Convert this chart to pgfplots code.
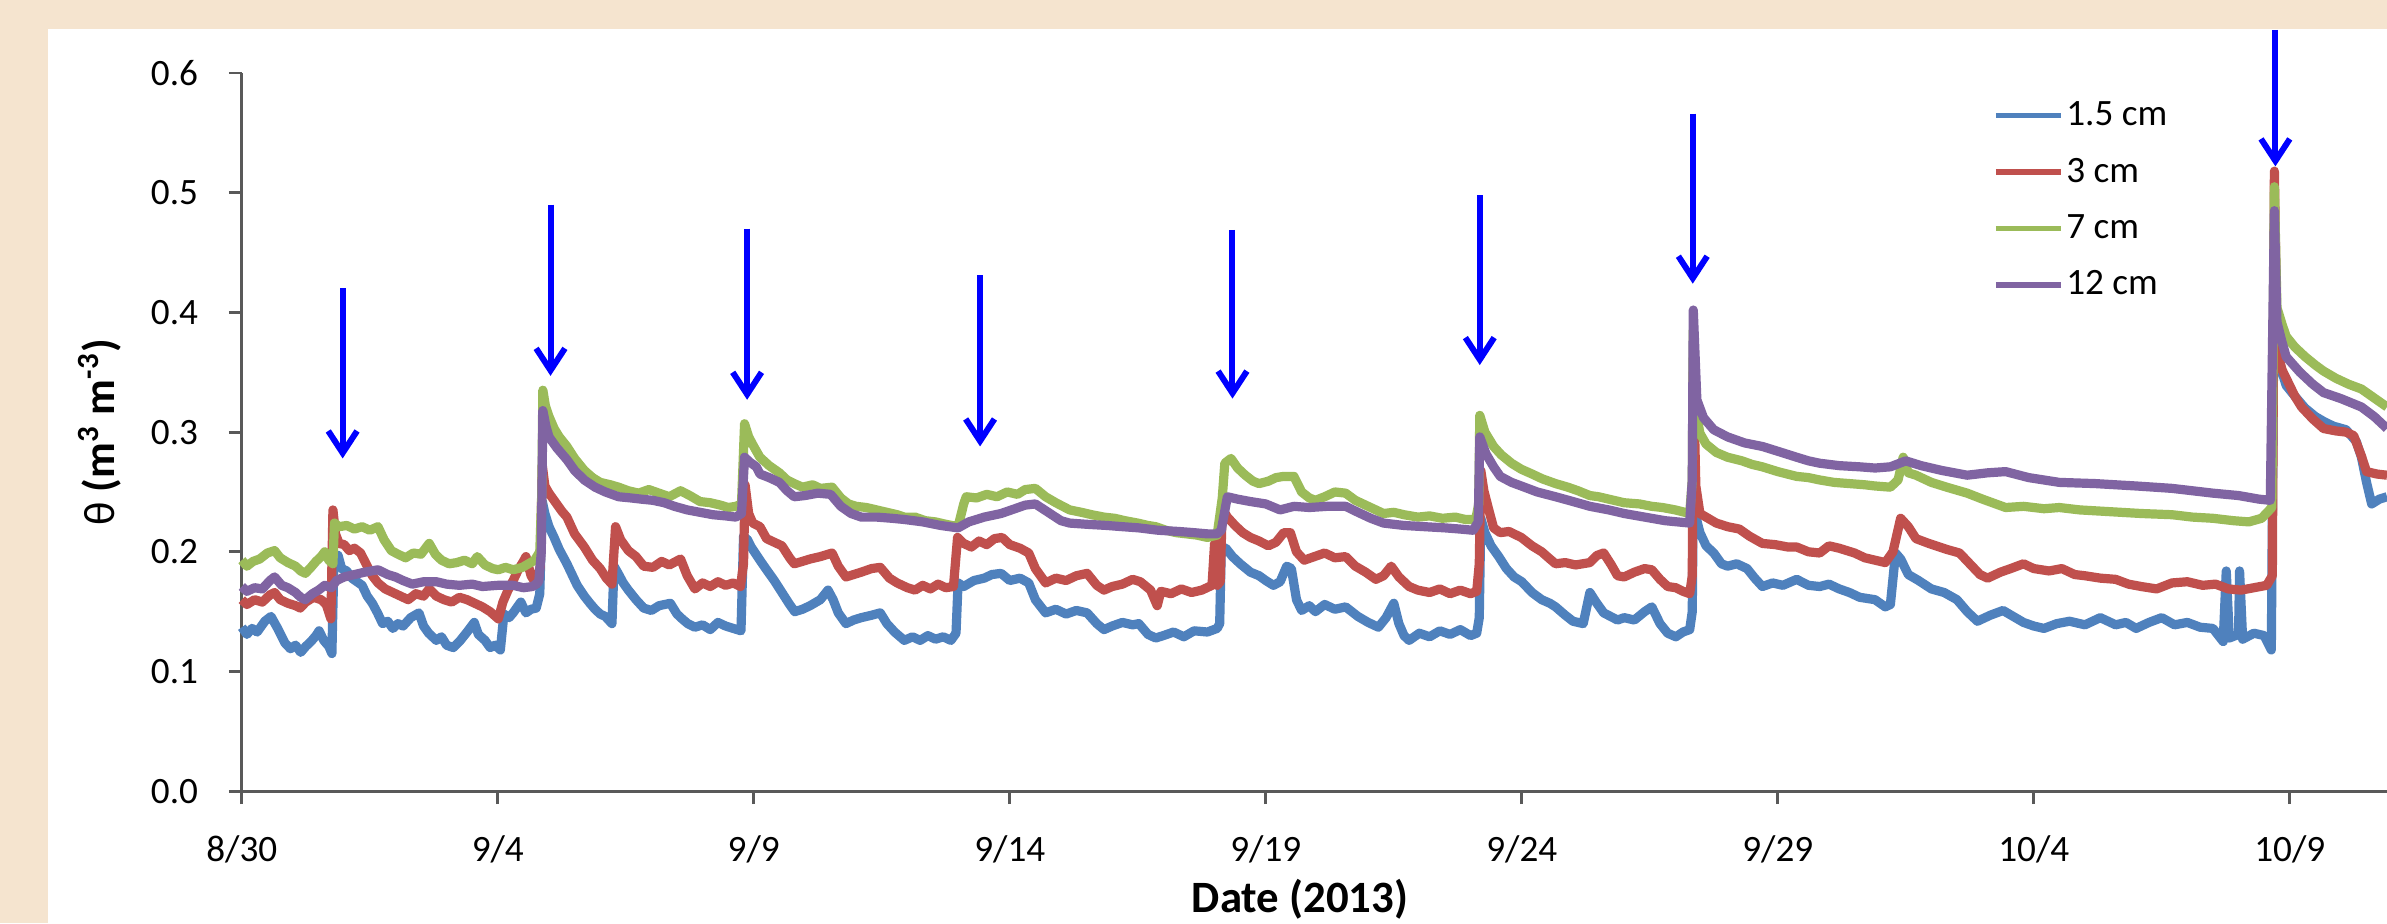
\documentclass[border=0pt]{standalone}
\usepackage{pgfplots}
\pgfplotsset{compat=1.18}
\usepackage{pgfplotstable}
\usepackage{fontspec}
\setmainfont{Carlito}
\usetikzlibrary{arrows.meta}
\definecolor{bg}{RGB}{245,228,207}
\definecolor{sA}{HTML}{4F81BD}
\definecolor{sB}{HTML}{C0504D}
\definecolor{sC}{HTML}{9BBB59}
\definecolor{sD}{HTML}{8064A2}

\pgfplotstableread{
d v
0.00 0.137
0.10 0.131
0.20 0.136
0.30 0.133
0.45 0.142
0.57 0.146
0.70 0.136
0.84 0.124
0.95 0.119
1.05 0.122
1.15 0.116
1.25 0.121
1.35 0.125
1.45 0.130
1.51 0.134
1.60 0.126
1.70 0.121
1.76 0.115
1.80 0.194
1.88 0.197
1.95 0.186
2.05 0.184
2.15 0.178
2.25 0.175
2.35 0.172
2.45 0.163
2.55 0.157
2.65 0.149
2.75 0.140
2.85 0.142
2.95 0.136
3.05 0.140
3.15 0.138
3.30 0.145
3.46 0.149
3.55 0.138
3.65 0.132
3.80 0.126
3.90 0.129
4.00 0.122
4.13 0.120
4.25 0.125
4.40 0.133
4.54 0.141
4.62 0.131
4.75 0.126
4.85 0.120
4.95 0.122
5.05 0.118
5.12 0.148
5.22 0.145
5.30 0.149
5.45 0.158
5.55 0.149
5.65 0.152
5.75 0.153
5.82 0.165
5.87 0.242
5.92 0.232
6.00 0.221
6.10 0.212
6.20 0.202
6.35 0.190
6.45 0.181
6.55 0.172
6.69 0.163
6.80 0.157
6.90 0.152
7.00 0.148
7.10 0.146
7.23 0.140
7.27 0.188
7.35 0.182
7.45 0.174
7.55 0.168
7.70 0.160
7.85 0.153
8.00 0.151
8.15 0.155
8.37 0.157
8.50 0.148
8.60 0.144
8.71 0.140
8.85 0.137
9.00 0.139
9.15 0.135
9.30 0.141
9.45 0.138
9.60 0.136
9.75 0.134
9.80 0.213
9.88 0.210
9.95 0.204
10.12 0.193
10.25 0.185
10.40 0.176
10.55 0.166
10.70 0.156
10.80 0.150
10.95 0.152
11.10 0.155
11.30 0.160
11.45 0.168
11.55 0.160
11.65 0.149
11.80 0.140
11.95 0.143
12.10 0.145
12.30 0.147
12.47 0.149
12.60 0.140
12.75 0.133
12.94 0.126
13.10 0.129
13.25 0.126
13.40 0.130
13.55 0.127
13.70 0.129
13.85 0.126
13.95 0.132
13.99 0.174
14.10 0.171
14.30 0.176
14.50 0.178
14.65 0.181
14.83 0.182
15.00 0.176
15.20 0.178
15.37 0.174
15.50 0.160
15.70 0.149
15.90 0.152
16.10 0.148
16.30 0.151
16.51 0.149
16.70 0.140
16.84 0.135
17.00 0.138
17.20 0.141
17.40 0.139
17.52 0.140
17.70 0.131
17.85 0.128
18.00 0.130
18.20 0.133
18.40 0.129
18.60 0.134
18.86 0.133
19.05 0.136
19.10 0.140
19.13 0.200
19.22 0.203
19.35 0.196
19.50 0.190
19.70 0.183
19.87 0.180
20.00 0.176
20.15 0.172
20.28 0.175
20.41 0.188
20.50 0.186
20.60 0.160
20.70 0.151
20.85 0.155
20.97 0.150
21.15 0.156
21.35 0.152
21.56 0.154
21.80 0.146
22.00 0.141
22.20 0.137
22.35 0.145
22.50 0.157
22.60 0.140
22.70 0.130
22.80 0.126
23.00 0.132
23.20 0.129
23.40 0.134
23.60 0.131
23.80 0.135
24.00 0.130
24.12 0.132
24.17 0.145
24.20 0.228
24.28 0.216
24.40 0.205
24.55 0.196
24.70 0.186
24.85 0.179
25.00 0.175
25.20 0.166
25.39 0.160
25.55 0.157
25.66 0.154
25.85 0.147
26.00 0.142
26.20 0.140
26.33 0.166
26.45 0.158
26.60 0.149
26.87 0.143
27.00 0.145
27.20 0.143
27.40 0.150
27.54 0.154
27.70 0.140
27.85 0.132
28.01 0.129
28.15 0.133
28.28 0.135
28.33 0.150
28.35 0.250
28.42 0.226
28.48 0.216
28.60 0.205
28.75 0.199
28.90 0.190
29.02 0.188
29.20 0.190
29.40 0.186
29.55 0.178
29.70 0.171
29.90 0.174
30.10 0.172
30.37 0.177
30.60 0.172
30.82 0.171
31.00 0.173
31.20 0.169
31.40 0.166
31.60 0.162
31.90 0.160
32.10 0.154
32.20 0.156
32.30 0.199
32.40 0.194
32.55 0.181
32.75 0.176
33.00 0.169
33.25 0.166
33.50 0.160
33.70 0.150
33.90 0.142
34.15 0.147
34.40 0.151
34.60 0.146
34.80 0.141
35.00 0.138
35.20 0.136
35.45 0.140
35.70 0.142
36.00 0.139
36.30 0.145
36.60 0.139
36.80 0.141
37.00 0.136
37.25 0.141
37.50 0.145
37.75 0.139
38.00 0.141
38.25 0.137
38.50 0.136
38.70 0.125
38.76 0.184
38.82 0.128
39.00 0.131
39.02 0.184
39.08 0.127
39.30 0.132
39.50 0.130
39.64 0.118
39.70 0.450
39.75 0.369
39.85 0.350
39.93 0.339
40.10 0.330
40.30 0.320
40.50 0.313
40.66 0.309
40.85 0.305
41.10 0.302
41.30 0.292
41.40 0.279
41.50 0.258
41.60 0.240
41.75 0.244
41.90 0.246
}\seriesA

\pgfplotstableread{
d v
0.00 0.160
0.10 0.156
0.25 0.160
0.40 0.158
0.55 0.164
0.64 0.166
0.75 0.160
0.90 0.157
1.05 0.155
1.14 0.153
1.25 0.158
1.40 0.162
1.55 0.160
1.65 0.156
1.74 0.144
1.78 0.235
1.83 0.215
1.90 0.207
2.00 0.206
2.10 0.201
2.20 0.203
2.32 0.199
2.45 0.188
2.55 0.180
2.66 0.174
2.80 0.169
2.95 0.166
3.10 0.163
3.25 0.160
3.40 0.165
3.55 0.163
3.66 0.169
3.80 0.163
3.95 0.160
4.10 0.158
4.25 0.162
4.40 0.160
4.55 0.157
4.70 0.154
4.85 0.150
5.01 0.144
5.10 0.158
5.20 0.168
5.30 0.176
5.40 0.185
5.50 0.192
5.55 0.196
5.65 0.180
5.75 0.173
5.83 0.188
5.87 0.272
5.92 0.255
6.00 0.249
6.15 0.240
6.25 0.234
6.35 0.229
6.50 0.215
6.69 0.204
6.85 0.193
7.00 0.186
7.12 0.178
7.23 0.173
7.30 0.221
7.40 0.210
7.55 0.201
7.70 0.196
7.85 0.188
8.03 0.187
8.20 0.192
8.35 0.189
8.57 0.194
8.70 0.180
8.85 0.169
9.00 0.174
9.15 0.171
9.30 0.175
9.45 0.172
9.60 0.174
9.74 0.171
9.80 0.190
9.83 0.256
9.90 0.232
9.98 0.224
10.12 0.221
10.25 0.211
10.40 0.208
10.55 0.205
10.70 0.195
10.79 0.190
10.95 0.192
11.10 0.194
11.30 0.196
11.53 0.199
11.65 0.188
11.80 0.179
11.95 0.181
12.10 0.183
12.30 0.186
12.47 0.187
12.65 0.178
12.80 0.174
13.00 0.170
13.15 0.168
13.30 0.172
13.45 0.169
13.60 0.173
13.75 0.170
13.90 0.171
13.98 0.212
14.10 0.207
14.25 0.204
14.40 0.209
14.55 0.206
14.70 0.211
14.85 0.212
15.00 0.206
15.20 0.203
15.37 0.199
15.50 0.186
15.70 0.174
15.90 0.178
16.10 0.176
16.30 0.180
16.51 0.182
16.70 0.172
16.84 0.168
17.00 0.171
17.20 0.173
17.40 0.177
17.55 0.175
17.75 0.168
17.88 0.155
17.95 0.167
18.15 0.165
18.35 0.169
18.55 0.166
18.75 0.168
18.95 0.172
19.00 0.207
19.05 0.172
19.11 0.175
19.15 0.236
19.25 0.229
19.40 0.222
19.55 0.216
19.70 0.212
19.87 0.209
20.05 0.205
20.20 0.208
20.35 0.216
20.48 0.216
20.60 0.200
20.75 0.193
20.95 0.196
21.15 0.199
21.35 0.195
21.56 0.196
21.75 0.188
21.95 0.183
22.15 0.177
22.30 0.180
22.45 0.188
22.60 0.179
22.80 0.171
22.97 0.168
23.20 0.166
23.40 0.169
23.60 0.165
23.80 0.168
24.00 0.165
24.12 0.167
24.17 0.190
24.20 0.268
24.26 0.251
24.35 0.236
24.45 0.220
24.58 0.216
24.75 0.217
24.99 0.212
25.20 0.205
25.39 0.200
25.55 0.194
25.66 0.190
25.85 0.191
26.05 0.189
26.33 0.191
26.47 0.197
26.60 0.199
26.75 0.189
26.87 0.180
27.00 0.179
27.20 0.183
27.40 0.186
27.54 0.185
27.70 0.177
27.85 0.171
28.01 0.170
28.15 0.167
28.28 0.165
28.33 0.180
28.35 0.350
28.40 0.255
28.48 0.232
28.60 0.229
28.80 0.224
29.02 0.221
29.25 0.219
29.45 0.213
29.70 0.207
29.95 0.206
30.20 0.204
30.37 0.204
30.60 0.200
30.82 0.199
31.00 0.205
31.20 0.203
31.50 0.199
31.70 0.195
31.90 0.193
32.10 0.191
32.25 0.200
32.40 0.228
32.55 0.221
32.70 0.211
32.95 0.207
33.30 0.202
33.55 0.199
33.75 0.190
33.95 0.181
34.10 0.178
34.35 0.183
34.55 0.186
34.80 0.190
35.00 0.186
35.30 0.184
35.55 0.186
35.80 0.181
36.00 0.180
36.30 0.178
36.60 0.177
36.85 0.173
37.10 0.171
37.40 0.169
37.70 0.174
38.00 0.175
38.30 0.172
38.55 0.173
38.80 0.169
39.05 0.168
39.30 0.170
39.55 0.172
39.66 0.180
39.70 0.518
39.75 0.368
39.85 0.352
39.93 0.345
40.10 0.330
40.23 0.321
40.45 0.311
40.66 0.303
40.90 0.301
41.10 0.300
41.25 0.297
41.40 0.280
41.50 0.267
41.70 0.265
41.90 0.264
}\seriesB

\pgfplotstableread{
d v
0.00 0.193
0.10 0.188
0.22 0.192
0.35 0.194
0.50 0.199
0.64 0.201
0.75 0.195
0.90 0.191
1.05 0.188
1.15 0.184
1.24 0.182
1.35 0.187
1.45 0.192
1.55 0.196
1.62 0.200
1.70 0.193
1.78 0.190
1.81 0.224
1.90 0.221
2.05 0.222
2.20 0.219
2.35 0.221
2.50 0.218
2.66 0.221
2.78 0.210
2.92 0.201
3.05 0.198
3.20 0.195
3.35 0.199
3.50 0.198
3.66 0.207
3.78 0.198
3.90 0.193
4.05 0.190
4.20 0.191
4.35 0.193
4.50 0.190
4.60 0.196
4.75 0.189
4.90 0.186
5.01 0.185
5.15 0.187
5.30 0.185
5.48 0.187
5.60 0.190
5.72 0.193
5.82 0.200
5.86 0.250
5.88 0.335
5.93 0.322
6.00 0.313
6.10 0.303
6.20 0.296
6.35 0.288
6.50 0.278
6.69 0.268
6.85 0.262
7.00 0.258
7.20 0.256
7.36 0.254
7.55 0.251
7.75 0.249
7.95 0.252
8.15 0.249
8.35 0.246
8.57 0.251
8.75 0.247
8.95 0.242
9.15 0.241
9.35 0.239
9.50 0.237
9.65 0.238
9.76 0.240
9.82 0.307
9.90 0.296
10.00 0.288
10.12 0.279
10.30 0.272
10.50 0.266
10.65 0.260
10.79 0.257
10.95 0.254
11.15 0.256
11.30 0.253
11.53 0.254
11.70 0.245
11.85 0.240
12.00 0.238
12.20 0.237
12.40 0.235
12.60 0.233
12.80 0.231
12.94 0.229
13.15 0.229
13.35 0.226
13.55 0.225
13.75 0.223
13.99 0.221
14.10 0.240
14.15 0.246
14.35 0.245
14.55 0.248
14.75 0.246
14.95 0.250
15.15 0.248
15.30 0.252
15.50 0.253
15.70 0.246
15.90 0.241
16.17 0.235
16.40 0.233
16.60 0.231
16.84 0.229
17.05 0.228
17.25 0.226
17.50 0.224
17.70 0.222
17.85 0.221
18.05 0.218
18.25 0.216
18.45 0.215
18.65 0.214
18.86 0.212
19.05 0.214
19.15 0.245
19.20 0.274
19.32 0.278
19.45 0.270
19.60 0.264
19.75 0.259
19.87 0.257
20.05 0.259
20.20 0.262
20.35 0.263
20.55 0.263
20.70 0.250
20.85 0.245
20.97 0.243
21.15 0.246
21.35 0.250
21.56 0.249
21.75 0.243
21.95 0.239
22.15 0.235
22.30 0.232
22.50 0.233
22.70 0.231
22.97 0.229
23.20 0.230
23.45 0.228
23.70 0.229
23.90 0.227
24.10 0.227
24.16 0.240
24.18 0.314
24.28 0.300
24.45 0.288
24.60 0.281
24.80 0.274
24.99 0.269
25.20 0.265
25.40 0.261
25.66 0.257
25.90 0.254
26.10 0.251
26.33 0.247
26.50 0.246
26.70 0.244
27.00 0.241
27.30 0.240
27.54 0.238
27.75 0.237
28.00 0.235
28.28 0.232
28.33 0.260
28.35 0.385
28.40 0.318
28.48 0.299
28.60 0.290
28.80 0.283
29.02 0.279
29.30 0.276
29.50 0.273
29.70 0.271
30.00 0.267
30.37 0.263
30.60 0.262
30.82 0.260
31.10 0.258
31.40 0.257
31.70 0.256
31.90 0.255
32.20 0.254
32.35 0.260
32.45 0.279
32.55 0.266
32.70 0.264
33.00 0.258
33.30 0.254
33.70 0.249
34.00 0.244
34.45 0.237
34.80 0.238
35.20 0.236
35.50 0.237
35.90 0.235
36.30 0.234
36.70 0.233
37.10 0.232
37.70 0.231
38.10 0.229
38.50 0.228
38.90 0.226
39.20 0.225
39.45 0.228
39.65 0.237
39.70 0.505
39.75 0.404
39.85 0.390
39.93 0.380
40.10 0.371
40.30 0.363
40.50 0.356
40.66 0.351
40.90 0.345
41.15 0.340
41.40 0.336
41.60 0.330
41.90 0.321
}\seriesC

\pgfplotstableread{
d v
0.00 0.171
0.10 0.167
0.25 0.170
0.40 0.169
0.55 0.176
0.64 0.179
0.78 0.172
0.90 0.170
1.05 0.166
1.15 0.162
1.24 0.160
1.38 0.165
1.50 0.168
1.62 0.172
1.75 0.170
1.85 0.176
2.00 0.179
2.20 0.181
2.40 0.183
2.66 0.185
2.85 0.181
3.00 0.179
3.15 0.176
3.33 0.173
3.55 0.175
3.80 0.175
4.00 0.173
4.25 0.172
4.50 0.173
4.70 0.171
5.00 0.172
5.30 0.172
5.50 0.170
5.68 0.171
5.80 0.175
5.85 0.200
5.88 0.318
5.94 0.305
6.00 0.296
6.15 0.287
6.35 0.277
6.50 0.268
6.69 0.260
6.90 0.254
7.10 0.250
7.36 0.246
7.60 0.245
7.80 0.244
8.03 0.243
8.25 0.241
8.45 0.238
8.70 0.235
8.95 0.233
9.20 0.231
9.45 0.230
9.65 0.229
9.76 0.232
9.82 0.279
9.92 0.275
10.05 0.271
10.12 0.265
10.30 0.262
10.50 0.258
10.65 0.251
10.79 0.246
11.00 0.247
11.25 0.249
11.50 0.248
11.70 0.238
11.90 0.232
12.10 0.229
12.40 0.229
12.70 0.228
12.94 0.227
13.30 0.225
13.65 0.222
13.99 0.220
14.20 0.225
14.50 0.229
14.83 0.232
15.10 0.236
15.30 0.239
15.50 0.240
15.75 0.233
16.00 0.226
16.17 0.224
16.50 0.223
16.90 0.222
17.20 0.221
17.52 0.220
17.90 0.218
18.30 0.217
18.60 0.216
18.86 0.215
19.05 0.215
19.13 0.218
19.25 0.246
19.45 0.244
19.70 0.242
20.00 0.240
20.28 0.235
20.55 0.238
20.85 0.237
21.20 0.238
21.56 0.238
21.80 0.233
22.05 0.228
22.30 0.224
22.70 0.222
23.10 0.221
23.50 0.220
23.80 0.219
24.05 0.218
24.15 0.225
24.18 0.296
24.30 0.282
24.45 0.271
24.58 0.263
24.80 0.258
24.99 0.255
25.30 0.250
25.66 0.246
26.00 0.242
26.33 0.238
26.70 0.235
27.00 0.232
27.40 0.229
27.80 0.226
28.28 0.224
28.33 0.260
28.35 0.402
28.42 0.327
28.55 0.312
28.75 0.302
29.02 0.296
29.35 0.291
29.70 0.288
30.00 0.284
30.37 0.279
30.60 0.276
30.82 0.274
31.20 0.272
31.60 0.271
31.90 0.270
32.20 0.271
32.50 0.276
32.80 0.272
33.20 0.268
33.70 0.264
34.10 0.266
34.45 0.267
34.90 0.262
35.50 0.258
36.20 0.257
37.00 0.255
37.70 0.253
38.50 0.249
39.00 0.247
39.40 0.244
39.62 0.243
39.70 0.485
39.75 0.392
39.85 0.375
39.93 0.363
40.20 0.350
40.45 0.340
40.66 0.333
41.00 0.328
41.40 0.321
41.65 0.313
41.90 0.303
}\seriesD

\begin{document}
\begin{tikzpicture}
\fill[bg] (0pt,0pt) rectangle (596.75pt,230.75pt);
\fill[white] (12pt,0pt) rectangle (596.75pt,223.5pt);
\useasboundingbox (0pt,0pt) rectangle (596.75pt,230.75pt);
\begin{axis}[
  at={(60.45pt,32.95pt)}, anchor=south west,
  scale only axis, width=536.3pt, height=179.55pt,
  xmin=0, xmax=41.9, ymin=0, ymax=0.6,
  clip=false,
  axis x line*=bottom, axis y line*=left,
  axis line style={line width=0.7pt, black!65},
  tick style={line width=0.7pt, black!65},
  tick align=outside, major tick length=3.2pt,
  xtick={0,5,10,15,20,25,30,35,40},
  xticklabels={8/30,9/4,9/9,9/14,9/19,9/24,9/29,10/4,10/9},
  ytick={0,0.1,0.2,0.3,0.4,0.5,0.6},
  ticklabel style={font=\fontsize{9.3}{11}\selectfont, black},
  xticklabel style={yshift=-4.3pt},
  yticklabel style={xshift=-4.2pt, /pgf/number format/.cd, fixed, fixed zerofill, precision=1, assume math mode=true},
  xlabel={Date (2013)},
  ylabel={{\mdseries θ} (m\textsuperscript{3} m\textsuperscript{-3})},
  xlabel style={font=\bfseries\fontsize{11.2}{13}\selectfont, at={(axis description cs:0.4933,-0.150)}, anchor=center},
  ylabel style={font=\bfseries\fontsize{11}{13}\selectfont, at={(axis description cs:-0.0662,0.5)}, anchor=center},
  legend style={at={(axis description cs:0.816,0.968)}, anchor=north west, draw=none, fill=none, inner sep=0pt,
    font=\fontsize{9.3}{11}\selectfont, row sep=4.7pt,
    nodes={inner sep=0.6pt, text height=6.6pt, text depth=1.6pt}},
  legend cell align=left,
  legend image code/.code={\draw[#1, line width=1.4pt] (0pt,0pt) -- (16.3pt,0pt);},
  every axis plot/.append style={no marks, line width=2.3pt, line join=round},
]
\addplot[sA] table[x=d,y=v] {\seriesA};
\addlegendentry{1.5 cm}
\addplot[sB] table[x=d,y=v] {\seriesB};
\addlegendentry{3 cm}
\addplot[sC] table[x=d,y=v] {\seriesC};
\addlegendentry{7 cm}
\addplot[sD] table[x=d,y=v] {\seriesD};
\addlegendentry{12 cm}
\begin{scope}[blue, line width=1.5pt, -{Straight Barb[length=5.5pt,width=7.2pt]}]
\draw (axis cs:1.97,0.420) -- (axis cs:1.97,0.278);
\draw (axis cs:6.03,0.490) -- (axis cs:6.03,0.347);
\draw (axis cs:9.87,0.470) -- (axis cs:9.87,0.327);
\draw (axis cs:14.42,0.431) -- (axis cs:14.42,0.288);
\draw (axis cs:19.35,0.469) -- (axis cs:19.35,0.328);
\draw (axis cs:24.18,0.498) -- (axis cs:24.18,0.356);
\draw (axis cs:28.34,0.566) -- (axis cs:28.34,0.424);
\draw (axis cs:39.72,0.636) -- (axis cs:39.72,0.522);
\end{scope}
\end{axis}
\end{tikzpicture}
\end{document}
